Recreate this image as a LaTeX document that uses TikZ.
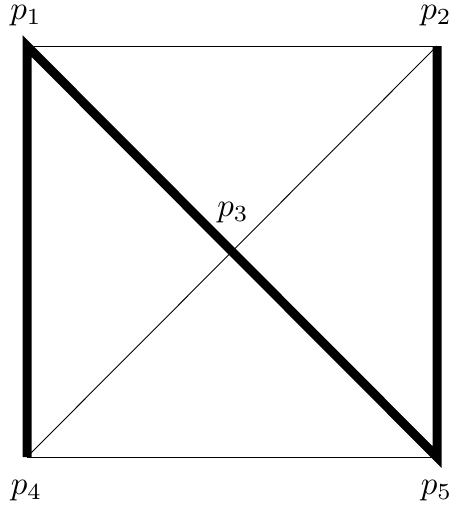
\documentclass[tikz,border=0pt]{standalone}
\usepackage{graphicx}
\newcommand{\biglbl}[1]{\scalebox{3.3}{$#1$}}
\begin{document}
\begin{tikzpicture}[x=1pt,y=-1pt,
  thinline/.style={line width=0.9pt},
  thickline/.style={line width=9pt, miter limit=10},
  lbl/.style={inner sep=0pt, anchor=base}]
\useasboundingbox (0,0) rectangle (452,506);
\coordinate (p1) at (27,46);
\coordinate (p2) at (437,46);
\coordinate (p3) at (232,251.5);
\coordinate (p4) at (27,457);
\coordinate (p5) at (437,457);
\draw[thinline] (p1) -- (p2);
\draw[thinline] (p4) -- (p5);
\draw[thinline] (p4) -- (p2);
\draw[thickline] (p4) -- (p1) -- (p5) -- (p2);
\node[lbl] (l1) at (26,19.6) {\biglbl{p_1}};
\node[lbl] (l2) at (436,19.6) {\biglbl{p_2}};
\node[lbl] (l3) at (233,216.6) {\biglbl{p_3}};
\node[lbl] (l4) at (26.5,494.6) {\biglbl{p_4}};
\node[lbl] (l5) at (436.5,494.6) {\biglbl{p_5}};
\end{tikzpicture}
\end{document}
